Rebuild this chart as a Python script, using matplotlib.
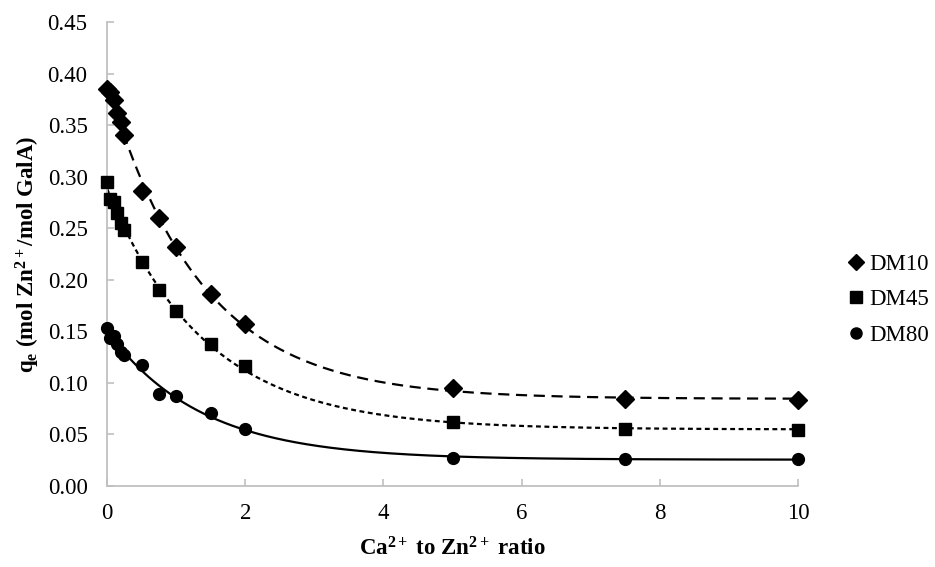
import numpy as np
import matplotlib.pyplot as plt
from matplotlib.lines import Line2D

plt.rcParams['font.family'] = ['Liberation Serif', 'DejaVu Serif']
plt.rcParams['mathtext.fontset'] = 'custom'
plt.rcParams['mathtext.rm'] = 'Liberation Serif:bold'
plt.rcParams['mathtext.it'] = 'Liberation Serif:bold'
plt.rcParams['mathtext.bf'] = 'Liberation Serif:bold'
plt.rcParams['mathtext.default'] = 'bf'

# Ca2+ to Zn2+ ratio
ratio = [0, 0.05, 0.1, 0.15, 0.2, 0.25, 0.5, 0.75, 1, 1.5, 2, 5, 7.5, 10]

# q_e (mol Zn2+/mol GalA)
dm10 = [0.385, 0.382, 0.374, 0.362, 0.353, 0.340, 0.286, 0.260, 0.232, 0.186, 0.157, 0.095, 0.084, 0.083]
dm45 = [0.295, 0.278, 0.275, 0.265, 0.255, 0.248, 0.217, 0.190, 0.170, 0.138, 0.116, 0.062, 0.055, 0.054]
dm80 = [0.153, 0.144, 0.145, 0.138, 0.130, 0.127, 0.117, 0.089, 0.087, 0.071, 0.055, 0.027, 0.026, 0.026]

series = ['DM10', 'DM45', 'DM80']
y_ticks = [0.00, 0.05, 0.10, 0.15, 0.20, 0.25, 0.30, 0.35, 0.40, 0.45]
x_ticks = [0, 2, 4, 6, 8, 10]


def ajustar_exponencial(x, y):
    # y = c + a*exp(-k x), k por busca em grade, a e c por minimos quadrados
    x = np.asarray(x, float)
    y = np.asarray(y, float)
    melhor = None
    for k in np.linspace(0.05, 3, 600):
        A = np.column_stack([np.ones_like(x), np.exp(-k * x)])
        coef, *_ = np.linalg.lstsq(A, y, rcond=None)
        erro = np.sum((A @ coef - y) ** 2)
        if melhor is None or erro < melhor[0]:
            melhor = (erro, k, coef)
    _, k, (c, a) = melhor
    return lambda t: c + a * np.exp(-k * t)


fig = plt.figure(figsize=(9.35, 5.67), dpi=100)
ax = fig.add_axes([107 / 935, 1 - 486 / 567, 691 / 935, 464 / 567])

estilos = [
    ('D', 9, (0, (5, 3))),
    ('s', 8.5, (0, (2.2, 1.6))),
    ('o', 8.5, '-'),
]
xs = np.linspace(0, 10, 400)
handles = []
for nome, dados, (marc, tam, ls) in zip(series, [dm10, dm45, dm80], estilos):
    curva = ajustar_exponencial(ratio, dados)
    ax.plot(xs, curva(xs), color='black', lw=1.6, linestyle=ls, zorder=2)
    ax.plot(ratio, dados, linestyle='none', marker=marc, markersize=tam,
            color='black', zorder=3, clip_on=False)
    handles.append(Line2D([], [], linestyle='none', marker=marc,
                          markersize=8, color='black', label=nome))

ax.set_xlim(0, 10)
ax.set_ylim(0, 0.45)
ax.set_xticks(x_ticks)
ax.set_yticks(y_ticks)
ax.set_yticklabels([f'{v:.2f}' for v in y_ticks])
ax.tick_params(direction='in', color='#c0c0c0', length=5, width=1.2,
               labelsize=16.5)
ax.tick_params(axis='y', pad=14)
ax.tick_params(axis='x', pad=12)
for s in ['top', 'right']:
    ax.spines[s].set_visible(False)
for s in ['left', 'bottom']:
    ax.spines[s].set_color('#c0c0c0')
    ax.spines[s].set_linewidth(1.3)

ax.set_xlabel('Ca$^{2+}$ to Zn$^{2+}$ ratio', fontsize=16.5, fontweight='bold', labelpad=10)
ax.set_ylabel('q$_{e}$ (mol Zn$^{2+}$/mol GalA)', fontsize=16.5, fontweight='bold', labelpad=4)

fig.legend(handles=handles, loc='center left', bbox_to_anchor=(0.898, 0.471),
           frameon=False, fontsize=16.5, handlelength=0.6, handletextpad=0.3,
           labelspacing=0.65, borderaxespad=0)

fig.savefig('out.png', dpi=100)
